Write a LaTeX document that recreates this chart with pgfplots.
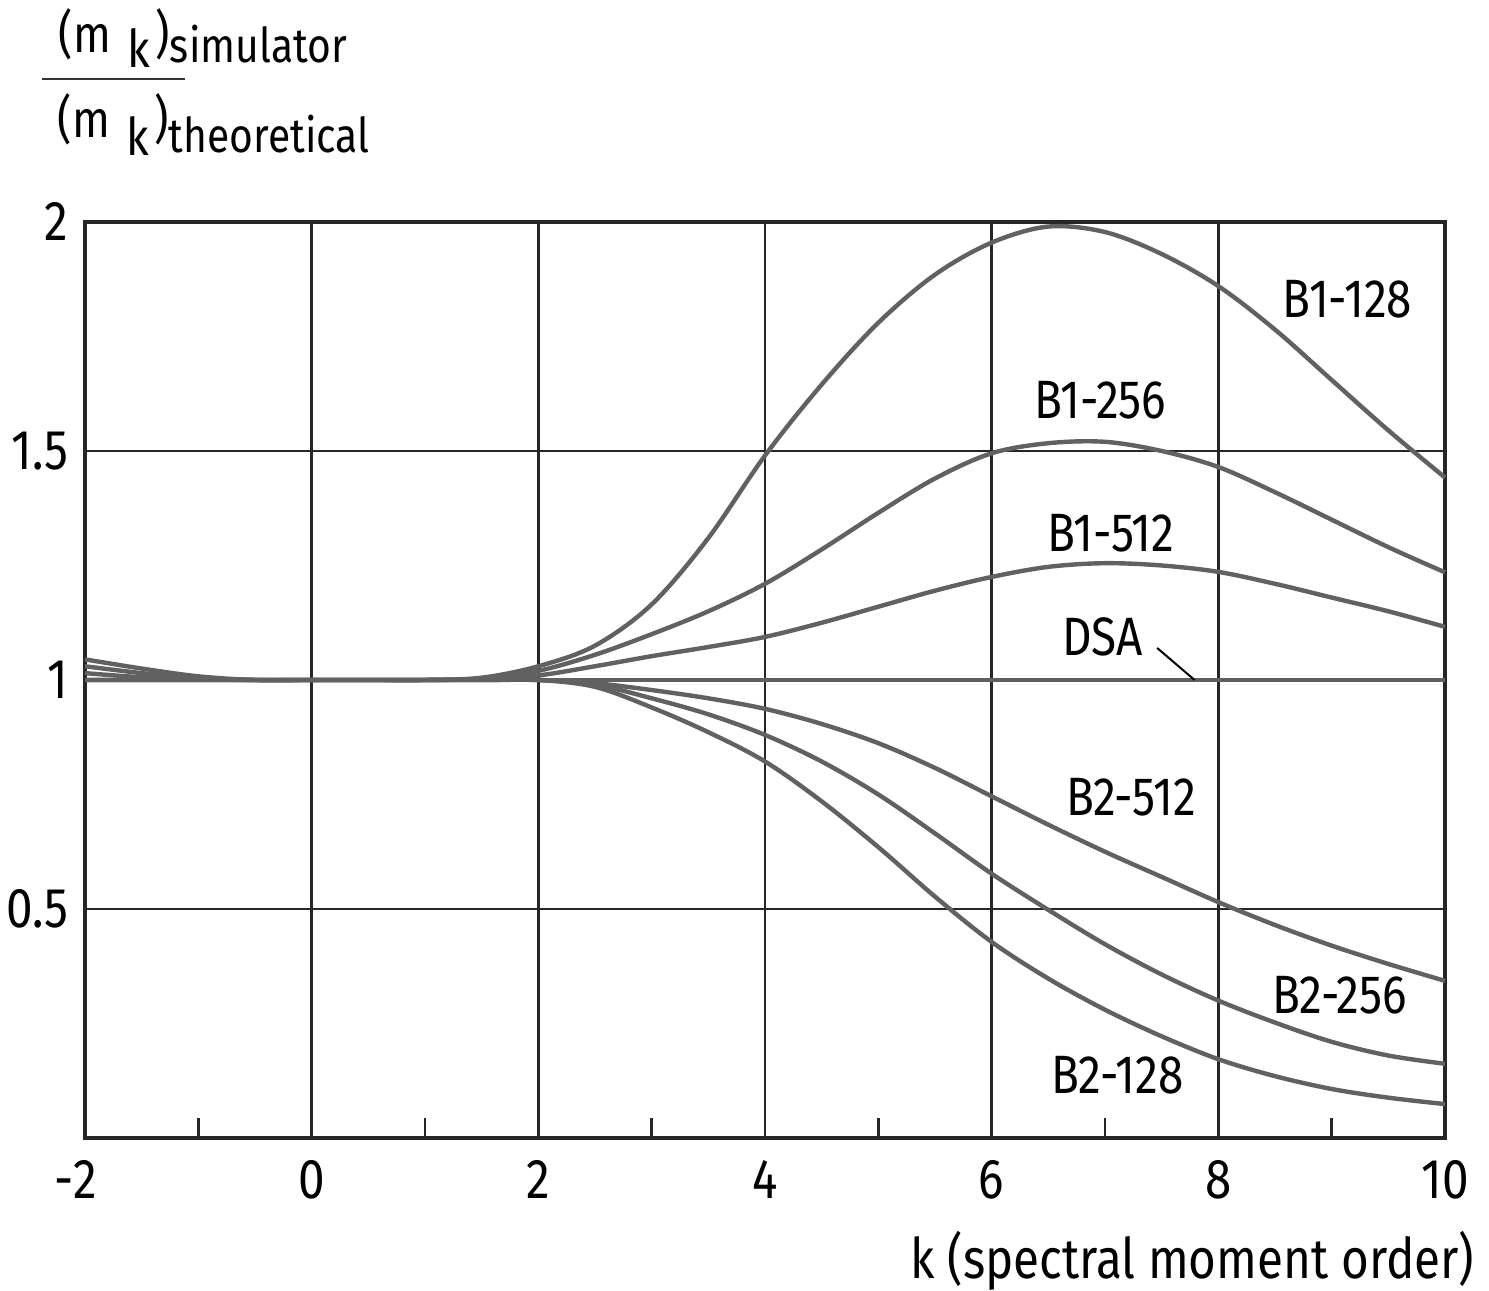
\documentclass[border=0pt]{standalone}
\usepackage{fontspec}
\setmainfont[FakeStretch=0.85]{Fira Sans}
\usepackage{pgfplots}
\pgfplotsset{compat=1.18}
\tikzset{curve/.style={black!62, line width=1.1pt, smooth, tension=0.55, mark=none, solid}}
\begin{document}
\begin{tikzpicture}
\begin{axis}[
  name=ax, scale only axis, width=340pt, height=229pt,
  xmin=-2, xmax=10, ymin=0, ymax=2,
  xtick={-2,0,2,4,6,8,10}, xticklabels={\llap{-}2,0,2,4,6,8,10},
  minor xtick={-1,1,3,5,7,9},
  ytick={0.5,1,1.5,2}, yticklabels={0.5,1,1.5,2},
  grid=major, major grid style={black!85, line width=0.6pt},
  axis line style={black!85, line width=0.8pt},
  major tick length=0pt, minor tick length=5pt,
  tick align=inside, xtick pos=lower, ytick pos=left,
  minor tick style={black!85, line width=0.6pt},
  xticklabel style={font=\fontsize{14}{16}\selectfont, anchor=north, inner sep=0pt, yshift=-5.5pt},
  yticklabel style={font=\fontsize{14}{16}\selectfont, anchor=east, inner sep=0pt, xshift=-4pt},
  clip=false,
]
% B1-128
\addplot[curve] coordinates {(-2,1.045) (-1.5,1.025) (-1,1.008) (-0.5,1.0) (0,1) (0.5,1) (1,1) (1.5,1.005) (2,1.03) (2.5,1.075) (3,1.165) (3.5,1.31) (4,1.49) (4.5,1.645) (5,1.78) (5.5,1.885) (6,1.955) (6.5,1.99) (7,1.978) (7.5,1.93) (8,1.86) (8.5,1.765) (9,1.655) (9.5,1.545) (10,1.442)};
% B1-256
\addplot[curve] coordinates {(-2,1.03) (-1.5,1.015) (-1,1.004) (-0.5,1) (0,1) (0.5,1) (1,1) (1.5,1.003) (2,1.02) (2.5,1.055) (3,1.10) (3.5,1.15) (4,1.21) (4.5,1.285) (5,1.365) (5.5,1.44) (6,1.495) (6.5,1.517) (7,1.52) (7.5,1.50) (8,1.465) (8.5,1.41) (9,1.35) (9.5,1.29) (10,1.235)};
% B1-512
\addplot[curve] coordinates {(-2,1.015) (-1.5,1.006) (-1,1.002) (-0.5,1) (0,1) (0.5,1) (1,1) (1.5,1.002) (2,1.01) (2.5,1.03) (3,1.052) (3.5,1.072) (4,1.094) (4.5,1.125) (5,1.16) (5.5,1.195) (6,1.225) (6.5,1.247) (7,1.255) (7.5,1.25) (8,1.236) (8.5,1.21) (9,1.18) (9.5,1.15) (10,1.116)};
% DSA
\addplot[curve] coordinates {(-2,1) (10,1)};
% B2-512
\addplot[curve] coordinates {(-2,1) (0,1) (1,1) (1.5,1) (2,1) (2.5,0.993) (3,0.978) (3.5,0.96) (4,0.937) (4.5,0.904) (5,0.862) (5.5,0.808) (6,0.746) (6.5,0.684) (7,0.625) (7.5,0.57) (8,0.515) (8.5,0.465) (9,0.42) (9.5,0.38) (10,0.343)};
% B2-256
\addplot[curve] coordinates {(-2,1) (0,1) (1,1) (1.5,1) (2,1) (2.5,0.99) (3,0.96) (3.5,0.925) (4,0.88) (4.5,0.822) (5,0.75) (5.5,0.665) (6,0.577) (6.5,0.498) (7,0.423) (7.5,0.357) (8,0.30) (8.5,0.252) (9,0.21) (9.5,0.18) (10,0.162)};
% B2-128
\addplot[curve] coordinates {(-2,1) (0,1) (1,1) (1.5,1) (2,1) (2.5,0.985) (3,0.94) (3.5,0.886) (4,0.822) (4.5,0.735) (5,0.635) (5.5,0.527) (6,0.428) (6.5,0.348) (7,0.28) (7.5,0.222) (8,0.172) (8.5,0.135) (9,0.107) (9.5,0.088) (10,0.074)};

\begin{scope}[every node/.style={font=\fontsize{13.5}{15}\selectfont, inner sep=0pt}]
\node at (axis cs:9.14,1.832) {B1-128};
\node at (axis cs:6.96,1.611) {B1-256};
\node at (axis cs:7.05,1.321) {B1-512};
\node at (axis cs:6.98,1.094) {DSA};
\node at (axis cs:7.23,0.745) {B2-512};
\node at (axis cs:9.07,0.312) {B2-256};
\node at (axis cs:7.11,0.138) {B2-128};
\end{scope}
\draw[line width=0.5pt] (axis cs:7.46,1.07) -- (axis cs:7.79,1.0);
\end{axis}
% x label
\node[anchor=north east, inner sep=0pt, font=\fontsize{14}{16}\selectfont] at ([shift={(7.5pt,-23pt)}]ax.south east) {k (spectral moment order)};
% y label (fraction)
\node[anchor=base west, inner sep=0pt, font=\fontsize{13}{15}\selectfont] at ([shift={(-6.75pt,271.25pt)}]ax.south west)
  {(m\hspace{4pt}\raisebox{-3.75pt}{k}\hspace{1.5pt})\raisebox{-2.5pt}{\fontsize{12}{14}\selectfont simulator}};
\node[anchor=base west, inner sep=0pt, font=\fontsize{13}{15}\selectfont] at ([shift={(-7pt,250pt)}]ax.south west)
  {(m\hspace{4pt}\raisebox{-4.5pt}{k}\hspace{1.5pt})\raisebox{-3.75pt}{\fontsize{12}{14}\selectfont theoretical}};
\draw[line width=0.6pt, black!80] ([shift={(-10.75pt,264.75pt)}]ax.south west) -- ([shift={(25pt,264.75pt)}]ax.south west);
\pgfresetboundingbox
\path[use as bounding box] ([shift={(-21.25pt,-38.25pt)}]ax.south west) rectangle ([shift={(351pt,284.5pt)}]ax.south west);
\end{tikzpicture}
\end{document}
